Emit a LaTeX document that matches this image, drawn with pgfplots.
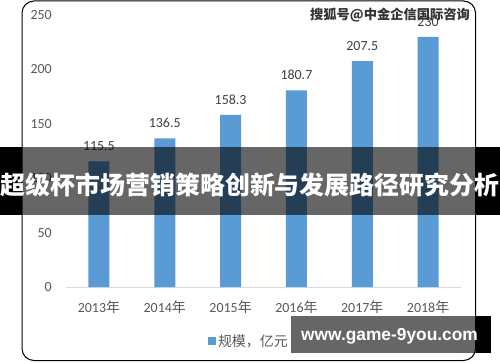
\documentclass[border=0pt]{standalone}
\usepackage{pgfplots}
\pgfplotsset{compat=1.18}
\usepackage{fontspec}
\setmainfont{Carlito}
\newfontfamily\cjk{Noto Sans CJK SC}
\newfontfamily\wfont{Liberation Sans}
\definecolor{bar}{HTML}{5B9BD5}
\definecolor{tick}{HTML}{595959}
\definecolor{val}{HTML}{404040}
\begin{document}
\begin{tikzpicture}[x=1bp,y=1bp]
\path[use as bounding box] (0,0) rectangle (500,362);
\fill[white] (0,0) rectangle (500,362);
\draw[line width=1bp, rounded corners=12bp] (22,1.5) rectangle (475.5,361);
\begin{axis}[
  at={(66bp,75bp)}, anchor=south west,
  scale only axis, width=395bp, height=272bp,
  xmin=-0.5, xmax=5.5, ymin=0, ymax=250,
  ybar, bar width=21bp,
  axis x line=bottom, axis y line=left,
  x axis line style={-, draw=black!15, line width=1bp},
  y axis line style={draw=none},
  major tick length=0pt,
  xtick={0,...,5},
  xticklabels={2013{\cjk 年},2014{\cjk 年},2015{\cjk 年},2016{\cjk 年},2017{\cjk 年},2018{\cjk 年}},
  ytick={0,50,...,250},
  /pgf/number format/assume math mode=true,
  ticklabel style={font=\fontsize{14}{16}\selectfont, text=tick},
  yticklabel style={xshift=-10.7bp},
  xticklabel style={yshift=-10bp},
  nodes near coords,
  every node near coord/.append style={font=\fontsize{14}{16}\selectfont, text=val, yshift=7bp},
  legend style={at={(0.463,-0.2)}, anchor=center, draw=none, fill=none, font=\cjk\fontsize{14}{16}\selectfont, text=tick},
  legend image code/.code={\fill[bar] (0bp,-4bp) rectangle (8bp,4bp);},
]
\addplot[fill=bar, draw=none] coordinates {(0,115.5) (1,136.5) (2,158.3) (3,180.7) (4,207.5) (5,230)};
\addlegendentry{规模，亿元}
\end{axis}
\fill[black] (0,147) rectangle (22,215);
\fill[black] (475.5,147) rectangle (500,215);
\fill[black, opacity=0.6] (22,147) rectangle (475.5,215);
\node[text=white, font=\cjk\bfseries\fontsize{25}{30}\selectfont, inner sep=0] at (250,177) {超级杯市场营销策略创新与发展路径研究分析};
\fill[black, opacity=0.6] (291,9.3) rectangle (475.5,46);
\fill[black] (475.5,9.3) rectangle (491,46);
\node[text=white, font=\wfont\bfseries\fontsize{17.4}{20}\selectfont, inner sep=0] at (389.5,26) {www.game-9you.com};
\node[text=black!80, font=\cjk\bfseries\fontsize{13.3}{15}\selectfont, inner sep=0, anchor=west] at (310,347) {搜狐号@中金企信国际咨询};
\end{tikzpicture}
\end{document}
